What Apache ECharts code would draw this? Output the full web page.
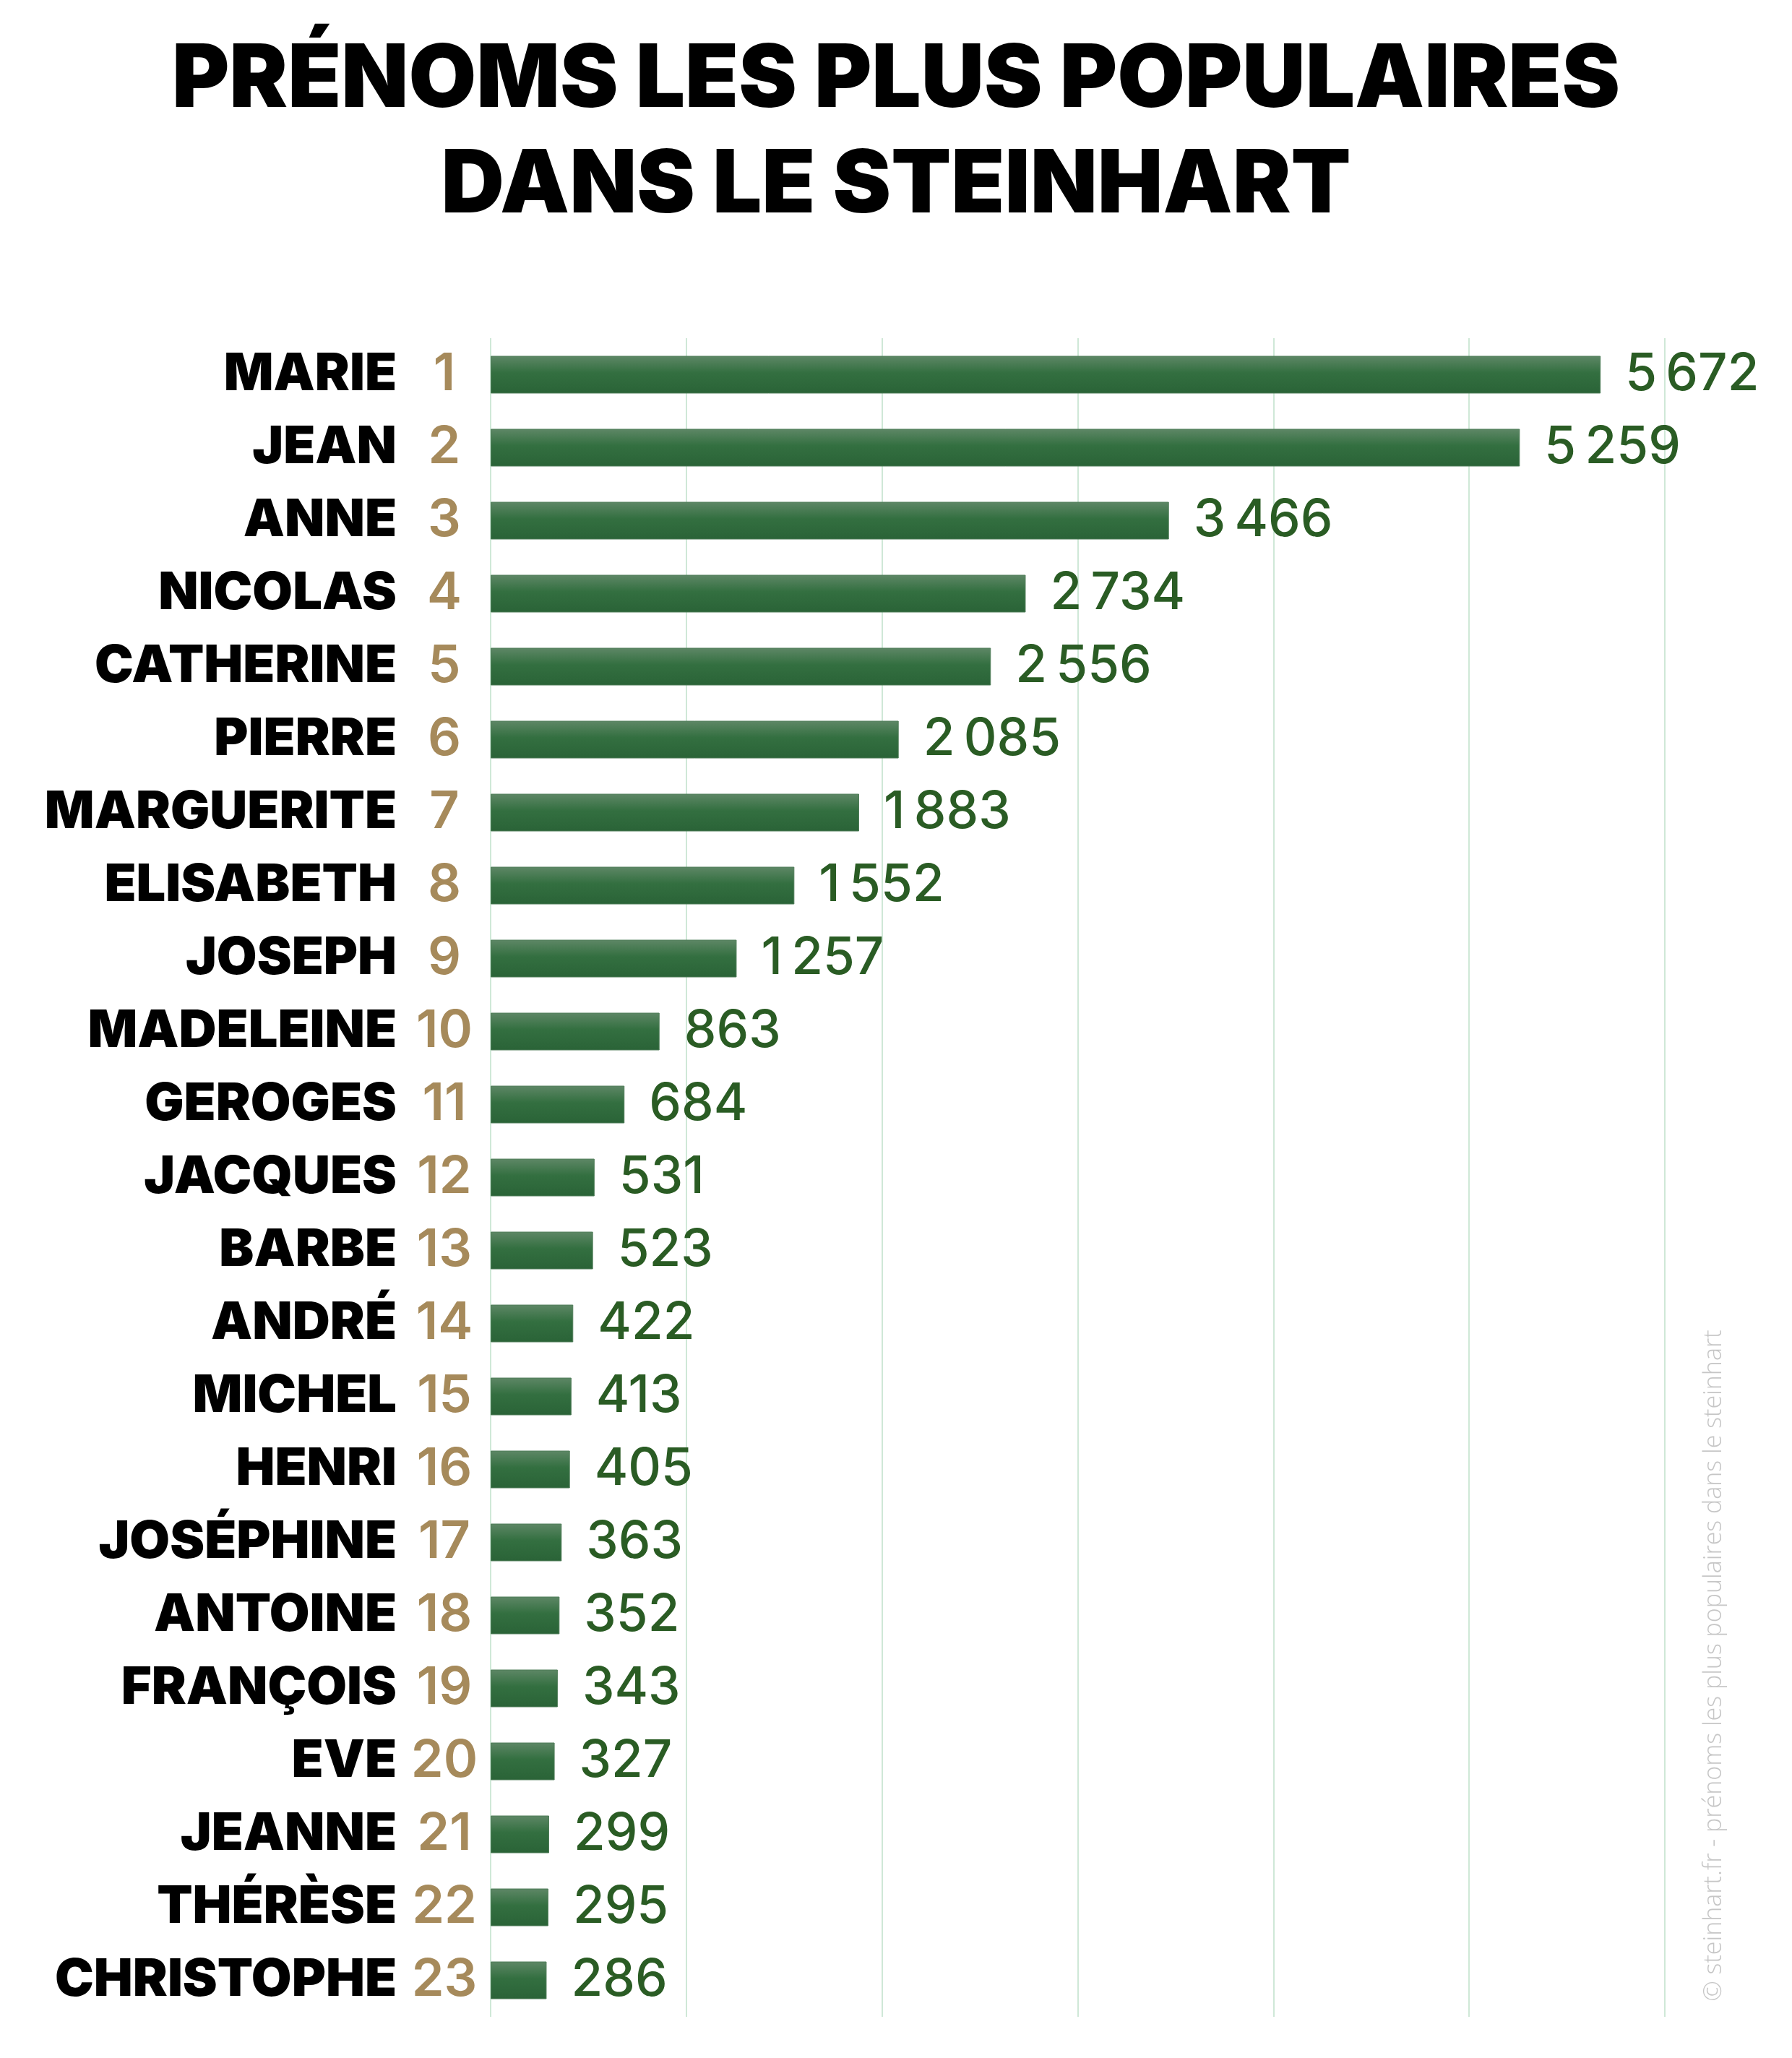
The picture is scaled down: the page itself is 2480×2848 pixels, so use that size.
<!DOCTYPE html>
<html lang="fr">
<head>
    <meta charset="utf-8" />
    <title>Prénoms les plus populaires dans le Steinhart</title>
    <script src="https://cdn.jsdelivr.net/npm/echarts@6/dist/echarts.min.js"></script>
    <style>
        html, body { margin: 0; padding: 0; background: #ffffff; }
    </style>
</head>
<body>
<div id="main" style="width: 2480px;height:2848px;"></div>
<script type="text/javascript">
    // prénoms, du plus fréquent au moins fréquent
    var names = ['MARIE', 'JEAN', 'ANNE', 'NICOLAS', 'CATHERINE', 'PIERRE', 'MARGUERITE',
        'ELISABETH', 'JOSEPH', 'MADELEINE', 'GEROGES', 'JACQUES', 'BARBE', 'ANDRÉ',
        'MICHEL', 'HENRI', 'JOSÉPHINE', 'ANTOINE', 'FRANÇOIS', 'EVE', 'JEANNE',
        'THÉRÈSE', 'CHRISTOPHE'];
    // rang affiché à côté du prénom
    var ranks = [1, 2, 3, 4, 5, 6, 7, 8, 9, 10, 11, 12, 13, 14, 15, 16, 17, 18, 19, 20, 21, 22, 23];
    // nombre d'occurrences
    var counts = [5672, 5259, 3466, 2734, 2556, 2085, 1883, 1552, 1257, 863, 684, 531,
        523, 422, 413, 405, 363, 352, 343, 327, 299, 295, 286];

    var titleText = 'PRÉNOMS LES PLUS POPULAIRES\nDANS LE STEINHART';
    var credit = '© steinhart.fr - prénoms les plus populaires dans le steinhart';

    // séparateur de milliers fin, comme sur l'original
    function fmt(v) {
        return String(v).replace(/\B(?=(\d{3})+(?!\d))/g, '\u2009');
    }

    var myChart = echarts.init(document.getElementById('main'));

    var option = {
        backgroundColor: '#ffffff',
        animation: false,
        title: {
            text: titleText,
            left: 'center',
            top: 34,
            textStyle: {
                fontFamily: 'Inter',
                fontWeight: 900,
                fontSize: 121,
                lineHeight: 146,
                color: '#000000'
            }
        },
        grid: {
            left: 679,
            right: 176,
            top: 468,
            bottom: 57,
            containLabel: false
        },
        xAxis: {
            type: 'value',
            min: 0,
            max: 6000,
            interval: 1000,
            axisLine: { show: false },
            axisTick: { show: false },
            axisLabel: { show: false },
            splitLine: {
                show: true,
                lineStyle: { color: '#cfe8d7', width: 2 }
            }
        },
        yAxis: {
            type: 'category',
            inverse: true,
            data: names,
            axisLine: { show: false },
            axisTick: { show: false },
            axisLabel: {
                margin: 14,
                formatter: function (value, idx) {
                    return '{n|' + value + '}{r|' + ranks[idx] + '}';
                },
                rich: {
                    n: {
                        fontFamily: 'Inter',
                        fontWeight: 900,
                        fontSize: 72,
                        color: '#000000',
                        padding: [0, 16, 0, 0]
                    },
                    r: {
                        fontFamily: 'Inter',
                        fontWeight: 600,
                        fontSize: 72,
                        color: '#a68a5b',
                        width: 100,
                        align: 'center'
                    }
                }
            }
        },
        series: [
            {
                name: 'Occurrences',
                type: 'bar',
                data: counts,
                barWidth: 52,
                itemStyle: {
                    color: new echarts.graphic.LinearGradient(0, 0, 0, 1, [
                        { offset: 0, color: '#5e8766' },
                        { offset: 0.45, color: '#336f40' },
                        { offset: 1, color: '#2a6337' }
                    ]),
                    borderColor: '#4f7d58',
                    borderWidth: 1
                },
                label: {
                    show: true,
                    position: 'right',
                    distance: 34,
                    fontFamily: 'Inter',
                    fontWeight: 500,
                    fontSize: 71,
                    color: '#2a5c24',
                    formatter: function (p) { return fmt(p.value); }
                }
            }
        ],
        graphic: [
            {
                type: 'text',
                x: 2372,
                y: 2305,
                rotation: Math.PI / 2,
                style: {
                    text: credit,
                    fontFamily: 'Open Sans',
                    fontWeight: 300,
                    fontSize: 34,
                    fill: '#c6c6c6',
                    textAlign: 'center',
                    textVerticalAlign: 'middle'
                }
            }
        ]
    };
    myChart.setOption(option);
</script>
</body>
</html>
